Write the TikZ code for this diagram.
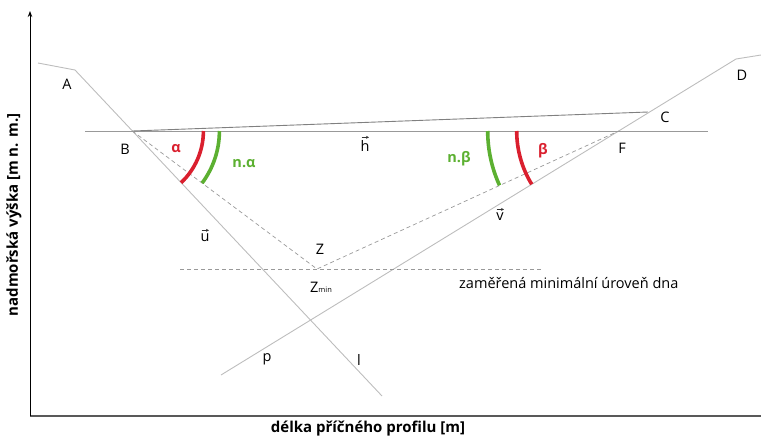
\documentclass[tikz,border=0pt]{standalone}
\usepackage{fontspec}
\setmainfont{Open Sans}
\usetikzlibrary{arrows.meta}
\definecolor{myred}{HTML}{DA1F2E}
\definecolor{mygreen}{HTML}{5CB031}
\definecolor{bankgray}{HTML}{BDBDBD}
\begin{document}
\begin{tikzpicture}[x=1pt,y=-1pt,
  bank/.style={draw=bankgray,line width=0.9pt},
  dashline/.style={draw=gray!80,dashed,dash pattern=on 4pt off 3pt,line width=0.7pt},
  arcred/.style={draw=myred,line width=3.6pt},
  arcgreen/.style={draw=mygreen,line width=3.6pt},
  lbl/.style={font=\fontsize{14.5}{16}\selectfont,inner sep=0pt},
  glbl/.style={font=\fontsize{14.5}{16}\selectfont\bfseries,inner sep=0pt},
  axlbl/.style={font=\fontsize{15}{17}\selectfont\bfseries,inner sep=0pt},
  vecarrow/.style={draw=black!80,line width=0.6pt,-{Stealth[length=3pt,width=3pt]}}]
\useasboundingbox (0,0) rectangle (761,437);
% coordinates
\coordinate (A0) at (38,63);
\coordinate (A1) at (75,70);
\coordinate (L) at (382,396);
\coordinate (D0) at (761,55);
\coordinate (D1) at (736,59);
\coordinate (P) at (221,375);
\coordinate (B) at (132.4,131);
\coordinate (F) at (618.7,131);
\coordinate (C) at (648,112);
\coordinate (Z) at (317,269);
\coordinate (W0) at (85,131);
\coordinate (W1) at (708,131);
\coordinate (H0) at (180,269);
\coordinate (H1) at (542,269);
\coordinate (O) at (30,416);
\coordinate (Ytop) at (30,11);
\coordinate (Xend) at (761,416);
% axes
\draw[line width=1.8pt,draw=black!65] (O) -- (Xend);
\draw[line width=1pt,-{Stealth[length=6pt,width=4.5pt]}] (O) -- (Ytop);
% banks
\draw[bank] (A0) -- (A1) -- (L);
\draw[bank] (D0) -- (D1) -- (P);
\draw[draw=black!40,line width=0.9pt] (W0) -- (W1);
\draw[draw=black!50,line width=0.9pt] (B) -- (C);
% dashed
\draw[dashline] (B) -- (Z) -- (F);
\draw[dashline] (H0) -- (H1);
% arcs
\draw[arcred] ([shift={(0:71)}]B) arc[start angle=0,end angle=46.7,radius=71];
\draw[arcgreen] ([shift={(0:87)}]B) arc[start angle=0,end angle=36.7,radius=87];
\draw[arcred] ([shift={(180:102)}]F) arc[start angle=180,end angle=148.5,radius=102];
\draw[arcgreen] ([shift={(180:131)}]F) arc[start angle=180,end angle=155.5,radius=131];
% labels
\node[lbl] (lA) at (67,84) {A};
\node[lbl] (lB) at (125,149) {B};
\node[lbl] (lC) at (665,117) {C};
\node[lbl] (lD) at (742,75) {D};
\node[lbl] (lF) at (622,148) {F};
\node[glbl,text=myred] (lal) at (176,149) {α};
\node[glbl,text=mygreen] (lnal) at (244,164) {n.α};
\node[glbl,text=mygreen] (lnbe) at (459,159) {n.β};
\node[glbl,text=myred] (lbe) at (543,151) {β};
\node[lbl] (lh) at (365,146) {h};
\node[lbl] (lv) at (500,217) {v};
\node[lbl] (lu) at (205,238) {u};
\draw[vecarrow] ([xshift=-3.5pt,yshift=3pt]lh.north) -- ([xshift=4pt,yshift=3pt]lh.north);
\draw[vecarrow] ([xshift=-3.5pt,yshift=3.5pt]lv.north) -- ([xshift=4pt,yshift=3.5pt]lv.north);
\draw[vecarrow] ([xshift=-3.5pt,yshift=3.5pt]lu.north) -- ([xshift=4pt,yshift=3.5pt]lu.north);
\node[lbl] (lZ) at (320,249) {Z};
\node[lbl,anchor=base west] (lZmin) at (310,292) {Z{\fontsize{7.5}{8}\selectfont min}};
\node[lbl,anchor=west] (ltext) at (459,283) {zaměřená minimální úroveň dna};
\node[lbl] (lp) at (267,359) {p};
\node[lbl] (ll) at (359,360) {l};
\node[axlbl,rotate=90] (ylab) at (14,215) {nadmořská výška [m n. m.]};
\node[axlbl] (xlab) at (368,429) {délka příčného profilu [m]};
\end{tikzpicture}
\end{document}
